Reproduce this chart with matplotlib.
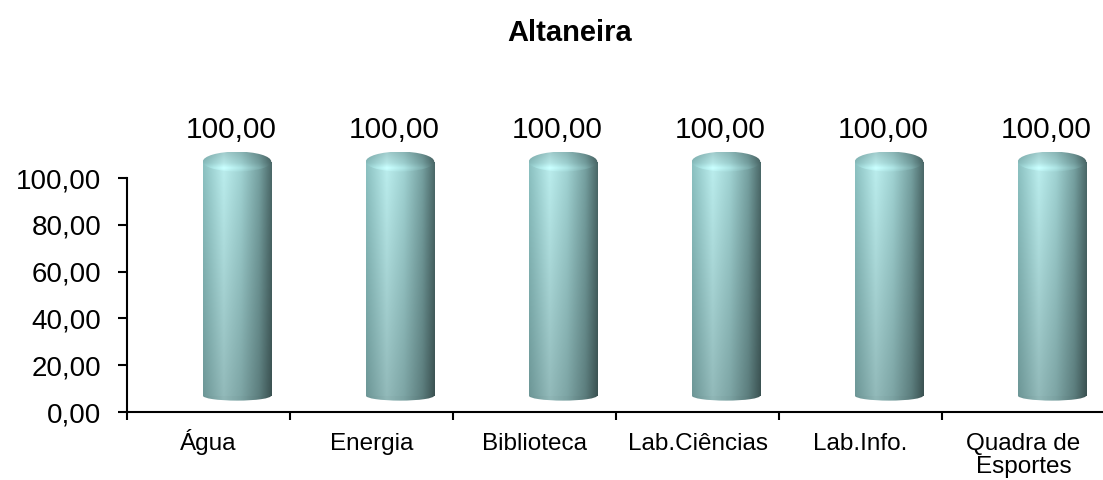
import numpy as np
import matplotlib
matplotlib.use("Agg")
import matplotlib.pyplot as plt
from matplotlib.patches import Ellipse, Rectangle
from matplotlib.ticker import FixedLocator, FuncFormatter, NullFormatter
from matplotlib.transforms import offset_copy

plt.rcParams['font.family'] = ['Liberation Sans', 'DejaVu Sans']

title = "Altaneira"
categories = ["Água", "Energia", "Biblioteca", "Lab.Ciências", "Lab.Info.", "Quadra de\nEsportes"]
values = [100.0, 100.0, 100.0, 100.0, 100.0, 100.0]
yticks = [0, 20, 40, 60, 80, 100]

W, H = 1103, 480
fig = plt.figure(figsize=(W / 100, H / 100), dpi=100)
x0, x1 = 127, 1105
yb, y100 = 412, 178
ytop_val = 125
ppu = (yb - y100) / 100.0
ytop_px = yb - ytop_val * ppu
ax = fig.add_axes([x0 / W, (H - yb) / H, (x1 - x0) / W, (yb - ytop_px) / H])

fmt = lambda v: f"{v:.2f}".replace(".", ",")

STOPS = [0.0, 0.3, 0.55, 0.82, 1.0]
COLS = np.array([
    [0.52, 0.72, 0.72],
    [0.70, 0.89, 0.89],
    [0.60, 0.79, 0.79],
    [0.44, 0.60, 0.60],
    [0.28, 0.39, 0.39],
])


def hprofile(nx):
    t = np.linspace(0, 1, nx)
    return np.stack([np.interp(t, STOPS, COLS[:, k]) for k in range(3)], axis=1)


def body_gradient(nx=120, ny=200):
    row = hprofile(nx)
    v = np.linspace(1.05, 0.82, ny)[:, None, None]
    return np.clip(row[None, :, :] * v, 0, 1)


def cap_gradient(nx=120, ny=60):
    row = hprofile(nx)
    v = np.interp(np.linspace(0, 1, ny), [0, 0.55, 0.8, 1.0], [0.90, 1.02, 1.14, 1.06])[:, None, None]
    return np.clip(row[None, :, :] * v, 0, 1)


n = len(categories)
xs = np.arange(n)
w = 0.42
dx = 0.175
dy = 7.0
cap_h = 10.0 / ppu * 2
bot_h = 5.0 / ppu * 2

body = body_gradient()
bot = body_gradient(ny=20)[-1:, :, :].repeat(20, axis=0) * 0.98
capimg = cap_gradient()

for x, v in zip(xs, values):
    cx = x + dx
    left, right = cx - w / 2, cx + w / 2
    bottom, top = dy, v + dy
    # bottom ellipse
    e_b = Ellipse((cx, bottom), w, bot_h, facecolor='none', edgecolor='none')
    ax.add_patch(e_b)
    im = ax.imshow(bot, extent=(left, right, bottom - bot_h / 2, bottom + bot_h / 2),
                   aspect='auto', origin='upper', interpolation='bilinear', zorder=2)
    im.set_clip_path(e_b)
    # body
    r = Rectangle((left, bottom), w, top - bottom, facecolor='none', edgecolor='none')
    ax.add_patch(r)
    im = ax.imshow(body, extent=(left, right, bottom, top), aspect='auto',
                   origin='upper', interpolation='bilinear', zorder=3)
    im.set_clip_path(r)
    # top cap
    e_t = Ellipse((cx, top), w, cap_h, facecolor='none', edgecolor='none')
    ax.add_patch(e_t)
    im = ax.imshow(capimg, extent=(left, right, top - cap_h / 2, top + cap_h / 2),
                   aspect='auto', origin='upper', interpolation='bilinear', zorder=4)
    im.set_clip_path(e_t)
    # value label
    ax.text(x + 0.14, v + 20.5, fmt(v), ha='center', va='center', fontsize=21.5, color='black')

ax.set_xlim(-0.5, n - 0.5)
ax.set_ylim(0, ytop_val)

for s in ['top', 'right']:
    ax.spines[s].set_visible(False)
ax.spines['left'].set_bounds(0, 100)
ax.spines['left'].set_linewidth(1.5)
ax.spines['bottom'].set_linewidth(1.5)

ax.set_yticks(yticks)
ax.yaxis.set_major_formatter(FuncFormatter(lambda v, p: fmt(v)))
ax.tick_params(axis='y', direction='out', length=6.5, width=1.5, pad=12, labelsize=20)

ax.xaxis.set_major_locator(FixedLocator(np.arange(n + 1) - 0.5))
ax.xaxis.set_major_formatter(NullFormatter())
ax.tick_params(axis='x', which='major', direction='out', length=6, width=1.5)

line_px = 22.5
for x, c in zip(xs, categories):
    for i, line in enumerate(c.split("\n")):
        tr = offset_copy(ax.get_xaxis_transform(), fig=fig, y=-38 - line_px * i, units='dots')
        ax.text(x, 0, line, transform=tr, ha='center', va='baseline',
                fontsize=17.5, clip_on=False)

fig.text(570 / W, 1 - 33 / H, title, ha='center', va='center', fontsize=21, fontweight='bold')

fig.savefig("out.png", dpi=100)
